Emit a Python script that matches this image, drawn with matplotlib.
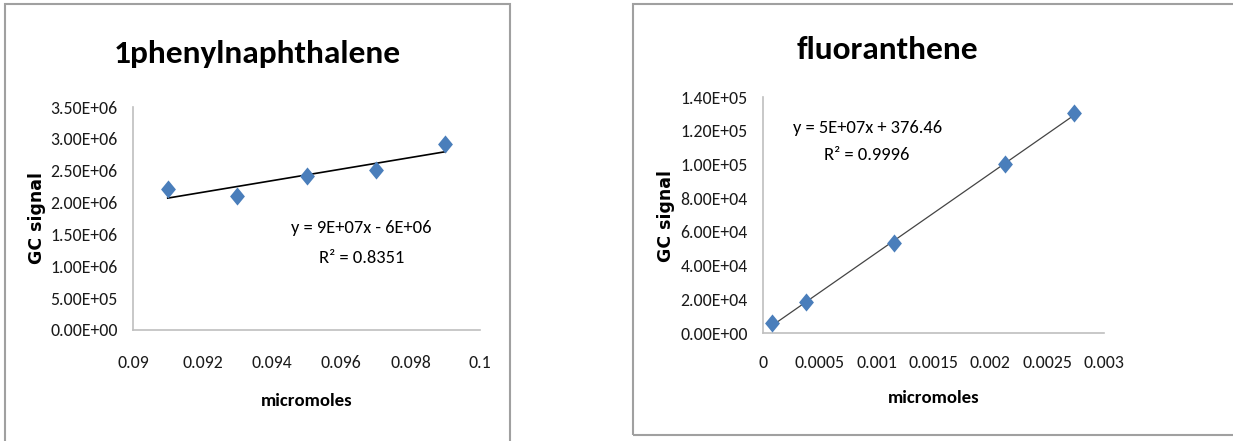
import numpy as np
import matplotlib
matplotlib.use("Agg")
import matplotlib.pyplot as plt
from matplotlib.patches import Rectangle
from matplotlib.path import Path
from matplotlib.ticker import FuncFormatter

# ====================
# Données
# ====================
pn_x = [0.091, 0.093, 0.095, 0.097, 0.099]
pn_y = [2.21e6, 2.11e6, 2.42e6, 2.51e6, 2.92e6]
pn_xticks = [0.09, 0.092, 0.094, 0.096, 0.098, 0.1]
pn_xtick_labels = ["0.09", "0.092", "0.094", "0.096", "0.098", "0.1"]
pn_yticks = [0, 5e5, 1e6, 1.5e6, 2e6, 2.5e6, 3e6, 3.5e6]
pn_eq = "y = 9E+07x - 6E+06"
pn_r2 = "R² = 0.8351"

fl_x = [0.00008, 0.00038, 0.00115, 0.00213, 0.00274]
fl_y = [5750, 18200, 53100, 100100, 130500]
fl_xticks = [0, 0.0005, 0.001, 0.0015, 0.002, 0.0025, 0.003]
fl_xtick_labels = ["0", "0.0005", "0.001", "0.0015", "0.002", "0.0025", "0.003"]
fl_yticks = [0, 2e4, 4e4, 6e4, 8e4, 1e5, 1.2e5, 1.4e5]
fl_eq = "y = 5E+07x + 376.46"
fl_r2 = "R² = 0.9996"

BLUE = "#4a7ebb"
AXIS_GRAY = "#bfbfbf"
FONT = ["Carlito", "DejaVu Sans"]

W, H = 1233, 441

# losange un peu plus haut que large (style Excel)
DIAMOND = Path([(0, 1), (0.82, 0), (0, -1), (-0.82, 0), (0, 1)],
               [Path.MOVETO, Path.LINETO, Path.LINETO, Path.LINETO, Path.CLOSEPOLY])


def sci(v, pos):
    return f"{v:.2E}"


def fx(px):
    return px / W


def fy(py):
    return 1 - py / H


def draw_panel(fig, box, x, y, xticks, xlabels, yticks, title, eq, r2,
               title_xy, ylab_xy, xlab_xy, eq_xy, r2_xy, trend_color, trend_lw, xpad):
    left, top, right, bottom = box
    ax = fig.add_axes([fx(left), fy(bottom), fx(right - left), (bottom - top) / H])
    ax.scatter(x, y, marker=DIAMOND, s=170, color=BLUE, zorder=3, linewidths=0)
    # droite de tendance (moindres carrés)
    a, b = np.polyfit(x, y, 1)
    xs = np.array([min(x), max(x)])
    ax.plot(xs, a * xs + b, color=trend_color, lw=trend_lw, zorder=2)

    ax.set_xlim(xticks[0], xticks[-1])
    ax.set_ylim(yticks[0], yticks[-1])
    ax.set_xticks(xticks)
    ax.set_xticklabels(xlabels)
    ax.set_yticks(yticks)
    ax.yaxis.set_major_formatter(FuncFormatter(sci))
    for lab in ax.get_xticklabels() + ax.get_yticklabels():
        lab.set_family(FONT)
        lab.set_fontsize(12.8)
        lab.set_color("#1a1a1a")
    ax.tick_params(length=0)
    ax.tick_params(axis="y", pad=11)
    ax.tick_params(axis="x", pad=xpad)
    for s in ["top", "right"]:
        ax.spines[s].set_visible(False)
    for s in ["left", "bottom"]:
        ax.spines[s].set_color(AXIS_GRAY)
        ax.spines[s].set_linewidth(1.2)
    ax.set_facecolor("none")

    fig.text(fx(title_xy[0]), fy(title_xy[1]), title, ha="center", va="baseline",
             fontsize=24, fontweight="bold", family=FONT)
    fig.text(fx(ylab_xy[0]), fy(ylab_xy[1]), "GC signal", ha="center", va="center",
             rotation=90, fontsize=12.5, fontweight="bold", family="DejaVu Sans")
    fig.text(fx(xlab_xy[0]), fy(xlab_xy[1]), "micromoles", ha="center", va="baseline",
             fontsize=13.5, fontweight="bold", family=FONT)
    fig.text(fx(eq_xy[0]), fy(eq_xy[1]), eq, ha="center", va="baseline",
             fontsize=13.3, family=FONT)
    fig.text(fx(r2_xy[0]), fy(r2_xy[1]), r2, ha="center", va="baseline",
             fontsize=13.3, family=FONT)
    return ax


fig = plt.figure(figsize=(W / 100, H / 100), dpi=100)

# cadres des deux graphiques
fig.patches.append(Rectangle((fx(4.5), fy(460)), fx(505.5), 456 / H, transform=fig.transFigure,
                             fill=False, edgecolor="#a0a0a0", lw=1.5))
fig.patches.append(Rectangle((fx(633), fy(435)), fx(610), 431 / H, transform=fig.transFigure,
                             fill=False, edgecolor="#a0a0a0", lw=1.5))

draw_panel(fig, (133, 107, 480, 330), pn_x, pn_y, pn_xticks, pn_xtick_labels, pn_yticks,
           "1phenylnaphthalene", pn_eq, pn_r2,
           (257, 63), (37.5, 218), (307, 406), (361, 233), (362, 263), "black", 1.2, 18)
draw_panel(fig, (763, 97, 1104, 333), fl_x, fl_y, fl_xticks, fl_xtick_labels, fl_yticks,
           "fluoranthene", fl_eq, fl_r2,
           (887, 59), (666, 216), (934, 403), (868, 133), (867, 160), "#444444", 0.9, 16)

fig.savefig("out.png", dpi=100)
